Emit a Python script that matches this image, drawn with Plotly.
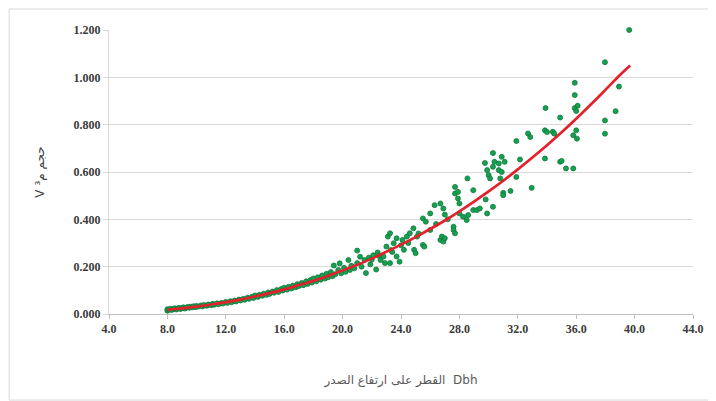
import plotly.graph_objects as go

# Observed trees: diameter at breast height (cm) and volume (m3)
dbh = [8.0, 8.0, 8.1, 8.2, 8.3, 8.4, 8.5, 8.6, 8.7, 8.8, 8.9, 9.0, 9.1, 9.2, 9.3, 9.4, 9.5, 9.6, 9.7, 9.8,
       9.9, 10.0, 10.1, 10.3, 10.4, 10.5, 10.7, 10.8, 11.0, 11.1, 11.2, 11.4, 11.5, 11.7, 11.8, 12.0, 12.1,
       12.3, 12.4, 12.6, 12.7, 12.9, 13.0, 13.2, 13.3, 13.5, 13.6, 13.8, 13.9, 14.0, 14.2, 14.3, 14.5, 14.6,
       14.8, 14.9, 15.0, 15.2, 15.3, 15.5, 15.6, 15.8, 15.9, 16.0, 16.2, 16.3, 16.5, 16.6, 16.8, 16.9, 17.0,
       17.2, 17.3, 17.5, 17.6, 17.8, 17.9, 18.0, 18.2, 18.3, 18.5, 18.6, 18.8, 18.9, 19.0, 19.2, 19.3, 19.4,
       19.5, 19.7, 19.8, 19.9, 20.1, 20.2, 20.4, 20.5, 20.6, 20.8, 21.0, 21.0, 21.2, 21.3, 21.5, 21.6, 21.8,
       21.9, 22.0, 22.1, 22.3, 22.4, 22.5, 22.6, 22.8, 22.9, 23.0, 23.1, 23.25, 23.25, 23.3, 23.4, 23.5, 23.7,
       23.7, 23.9, 24.0, 24.1, 24.2, 24.4, 24.5, 24.6, 24.85, 24.9, 25.0, 25.1, 25.2, 25.5, 25.5, 25.6, 25.7,
       26.0, 26.0, 26.3, 26.4, 26.7, 26.7, 26.8, 26.9, 26.9, 27.0, 27.0, 27.2, 27.6, 27.6, 27.7, 27.7, 27.7,
       27.9, 27.9, 28.0, 28.0, 28.25, 28.5, 28.6, 28.55, 28.95, 28.95, 29.2, 29.4, 29.8, 29.75, 29.9, 29.9,
       30.0, 30.1, 30.3, 30.3, 30.3, 30.4, 30.7, 30.7, 30.8, 30.9, 30.9, 31.0, 31.0, 31.1, 31.5, 31.9, 31.9,
       32.15, 32.7, 32.85, 32.95, 33.86, 33.9, 33.86, 34.0, 34.4, 34.5, 34.9, 34.9, 35.0, 35.3, 35.8, 35.8,
       35.9, 35.9, 35.9, 36.0, 36.0, 36.05, 36.1, 37.97, 37.97, 37.97, 38.7, 38.93, 39.63]
volume = [0.014, 0.020, 0.018, 0.022, 0.017, 0.021, 0.024, 0.019, 0.023, 0.026, 0.021, 0.025, 0.028, 0.023,
          0.027, 0.030, 0.026, 0.031, 0.028, 0.033, 0.029, 0.034, 0.031, 0.036, 0.032, 0.038, 0.035, 0.040,
          0.037, 0.043, 0.039, 0.045, 0.041, 0.047, 0.044, 0.051, 0.047, 0.054, 0.050, 0.057, 0.053, 0.061,
          0.057, 0.064, 0.060, 0.069, 0.064, 0.073, 0.068, 0.078, 0.072, 0.081, 0.077, 0.086, 0.081, 0.091,
          0.085, 0.095, 0.090, 0.101, 0.093, 0.106, 0.099, 0.111, 0.103, 0.115, 0.108, 0.120, 0.113, 0.126,
          0.118, 0.131, 0.122, 0.138, 0.127, 0.144, 0.133, 0.150, 0.138, 0.155, 0.145, 0.163, 0.150, 0.170,
          0.155, 0.177, 0.160, 0.205, 0.168, 0.186, 0.214, 0.172, 0.195, 0.178, 0.228, 0.186, 0.204, 0.193,
          0.268, 0.215, 0.242, 0.200, 0.228, 0.173, 0.238, 0.210, 0.230, 0.248, 0.188, 0.260, 0.245, 0.228,
          0.243, 0.215, 0.285, 0.327, 0.341, 0.215, 0.270, 0.262, 0.299, 0.243, 0.320, 0.221, 0.290, 0.313,
          0.271, 0.327, 0.300, 0.341, 0.362, 0.271, 0.257, 0.327, 0.340, 0.292, 0.404, 0.285, 0.390, 0.425,
          0.355, 0.460, 0.380, 0.467, 0.313, 0.327, 0.446, 0.306, 0.320, 0.420, 0.400, 0.369, 0.355, 0.341,
          0.537, 0.509, 0.488, 0.516, 0.467, 0.425, 0.411, 0.397, 0.418, 0.573, 0.523, 0.439, 0.439, 0.446,
          0.484, 0.638, 0.608, 0.425, 0.587, 0.573, 0.680, 0.622, 0.453, 0.643, 0.636, 0.608, 0.573, 0.664,
          0.600, 0.512, 0.502, 0.643, 0.520, 0.579, 0.731, 0.653, 0.763, 0.748, 0.533, 0.776, 0.870, 0.657,
          0.769, 0.770, 0.762, 0.830, 0.643, 0.647, 0.615, 0.615, 0.755, 0.977, 0.925, 0.870, 0.858, 0.776,
          0.741, 0.880, 1.064, 0.818, 0.762, 0.857, 0.961, 1.200]

# Fitted trend curve
fit_dbh = [8, 9, 10, 11, 12, 13, 14, 15, 16, 17, 18, 19, 20, 21, 22, 23, 24, 25, 26, 27, 28, 29, 30, 31,
           32, 33, 34, 35, 36, 37, 38, 39, 39.7]
fit_vol = [0.018, 0.024, 0.031, 0.040, 0.050, 0.061, 0.074, 0.088, 0.104, 0.122, 0.140, 0.161, 0.184,
           0.208, 0.234, 0.263, 0.293, 0.325, 0.359, 0.395, 0.434, 0.475, 0.518, 0.563, 0.611, 0.661,
           0.713, 0.768, 0.825, 0.885, 0.947, 1.010, 1.050]

x_ticks = [4, 8, 12, 16, 20, 24, 28, 32, 36, 40, 44]
y_ticks = [0, 0.2, 0.4, 0.6, 0.8, 1.0, 1.2]

fig = go.Figure()
fig.add_trace(go.Scatter(
    x=dbh, y=volume, mode="markers", cliponaxis=False,
    marker=dict(size=5, color="#16a04f", line=dict(width=0.8, color="#0d7a3e")),
    showlegend=False, hoverinfo="x+y"))
fig.add_trace(go.Scatter(
    x=fit_dbh, y=fit_vol, mode="lines",
    line=dict(color="#e3212b", width=2.7, shape="spline"),
    showlegend=False))

tick_font = dict(family="Liberation Serif", size=12, color="#3a3a3a", weight="bold")

fig.update_layout(
    width=708, height=393,
    margin=dict(l=101, r=23, t=22, b=87),
    paper_bgcolor="white", plot_bgcolor="white",
    xaxis=dict(range=[4, 44], tickvals=x_ticks,
               ticktext=[f"{v:.1f}" for v in x_ticks],
               showgrid=False, zeroline=False, showline=True, linecolor="#bfbfbf",
               ticks="outside", ticklen=4, tickcolor="#bfbfbf", tickfont=tick_font,
               title=dict(text="القطر على ارتفاع الصدر  Dbh",
                          font=dict(family="DejaVu Sans", size=12, color="#595959"),
                          standoff=40)),
    yaxis=dict(range=[0, 1.2], tickvals=y_ticks,
               ticktext=[f"{v:.3f}" for v in y_ticks],
               showgrid=True, gridcolor="#d9d9d9", zeroline=False,
               showline=True, linecolor="#d9d9d9",
               ticks="outside", ticklen=5, tickcolor="#d9d9d9", tickfont=tick_font,
               title=dict(text="V حجم م³",
                          font=dict(family="DejaVu Sans", size=12, color="#404040"),
                          standoff=26)),
    shapes=[dict(type="rect", xref="paper", yref="paper",
                 x0=-0.171, x1=1.0377, y0=-0.303, y1=1.074,
                 line=dict(color="#d9d9d9", width=1), fillcolor="rgba(0,0,0,0)", layer="below")],
)

fig.write_html("out.html")
